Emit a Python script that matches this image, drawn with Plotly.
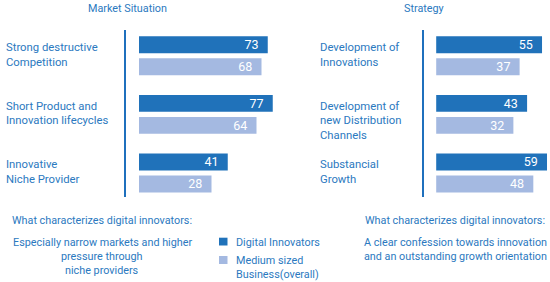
import plotly.graph_objects as go

# ---------------- data ----------------
market_categories = ["Strong destructive<br>Competition",
                     "Short Product and<br>Innovation lifecycles",
                     "Innovative<br>Niche Provider"]
market_digital = [73, 77, 41]
market_medium = [68, 64, 28]

strategy_categories = ["Development of<br>Innovations",
                       "Development of<br>new Distribution<br>Channels",
                       "Substancial<br>Growth"]
strategy_digital = [55, 43, 59]
strategy_medium = [37, 32, 48]

series_names = ["Digital Innovators", "Medium sized<br>Business(overall)"]
panel_titles = ["Market Situation", "Strategy"]
left_note = ["What characterizes digital innovators:",
             "Especially narrow markets and higher",
             "pressure through",
             "niche providers"]
right_note = ["What characterizes digital innovators:",
              "A clear confession towards innovation",
              "and an outstanding growth orientation"]

# ---------------- style ----------------
W, H = 550, 282
FONT = "Roboto, Liberation Sans, sans-serif"
TXT = "#2b79c0"
DARK = "#2072ba"
LIGHT = "#a4b9e1"
AXIS = "#1f70bd"
BASE = -30  # bars start a little left of zero, as in the original graphic
FS_LABEL = 11.3
FS_NOTE = 10.8


def px_x(p):
    return p / W


def px_y(p):
    return 1 - p / H


fig = go.Figure()

panels = [
    (market_categories, market_digital, market_medium, "x", "y"),
    (strategy_categories, strategy_digital, strategy_medium, "x2", "y2"),
]
for cats, dig, med, xa, ya in panels:
    for vals, color, name in [(dig, DARK, series_names[0]), (med, LIGHT, series_names[1])]:
        fig.add_trace(go.Bar(
            orientation="h", y=cats, x=[v - BASE for v in vals], base=BASE,
            text=vals, texttemplate="%{text}\u00a0\u00a0", textposition="inside",
            insidetextanchor="end", constraintext="none",
            textfont=dict(family=FONT, size=12.5, color="white"),
            marker=dict(color=color, line=dict(width=0)),
            name=name, showlegend=False, xaxis=xa, yaxis=ya,
            hoverinfo="skip",
        ))

ydom = [px_y(197), px_y(30)]
yrange = [2.41, -0.44]
fig.update_layout(
    width=W, height=H, margin=dict(l=0, r=0, t=0, b=0),
    paper_bgcolor="white", plot_bgcolor="white",
    barmode="group", bargap=0.25, bargroupgap=0.23,
    showlegend=False,
    font=dict(family=FONT, size=FS_LABEL, color=TXT),
    xaxis=dict(domain=[px_x(126), px_x(290)], range=[-40.4, 90.8], visible=False),
    yaxis=dict(domain=ydom, type="category", range=yrange, showline=True,
               linecolor=AXIS, linewidth=2, showticklabels=False,
               showgrid=False, zeroline=False, ticks=""),
    xaxis2=dict(domain=[px_x(423.5), 1.0], range=[-40.2, 61.4], visible=False),
    yaxis2=dict(domain=ydom, type="category", range=yrange, showline=True,
                linecolor=AXIS, linewidth=2, showticklabels=False,
                showgrid=False, zeroline=False, ticks="", anchor="x2"),
)

ann = []
# panel titles
ann.append(dict(text=panel_titles[0], xref="paper", yref="paper", x=px_x(127), y=px_y(8),
                xanchor="center", yanchor="middle", showarrow=False,
                font=dict(size=FS_NOTE)))
ann.append(dict(text=panel_titles[1], xref="paper", yref="paper", x=px_x(423.5), y=px_y(8),
                xanchor="center", yanchor="middle", showarrow=False,
                font=dict(size=FS_NOTE)))

# category labels (top aligned, one annotation per line)
LS = 14.6
for cats, yref, xpx in [(market_categories, "y", 3.5), (strategy_categories, "y2", 318)]:
    for c in cats:
        for i, line in enumerate(c.split("<br>")):
            ann.append(dict(text=line, xref="paper", yref=yref, x=px_x(xpx), y=c,
                            xanchor="left", yanchor="middle", yshift=8 - i * LS,
                            showarrow=False))

# bottom notes
for line, ypx in zip(left_note, [220.7, 242.7, 256.7, 270.7]):
    ann.append(dict(text=line, xref="paper", yref="paper", x=px_x(102), y=px_y(ypx),
                    xanchor="center", yanchor="middle", showarrow=False,
                    font=dict(size=FS_NOTE)))
for line, ypx in zip(right_note, [220.5, 242.7, 256.7]):
    ann.append(dict(text=line, xref="paper", yref="paper", x=px_x(455), y=px_y(ypx),
                    xanchor="center", yanchor="middle", showarrow=False,
                    font=dict(size=FS_NOTE)))

# legend (drawn manually)
shapes = []
for color, (y0, y1) in [(DARK, (237.7, 245.5)), (LIGHT, (256, 264))]:
    shapes.append(dict(type="rect", xref="paper", yref="paper",
                       x0=px_x(219), x1=px_x(227.5), y0=px_y(y1), y1=px_y(y0),
                       fillcolor=color, line=dict(width=0)))
leg_lines = [series_names[0]] + series_names[1].split("<br>")
for line, ypx in zip(leg_lines, [242, 260.5, 274.5]):
    ann.append(dict(text=line, xref="paper", yref="paper", x=px_x(233.5), y=px_y(ypx),
                    xanchor="left", yanchor="middle", showarrow=False,
                    font=dict(size=FS_NOTE)))

fig.update_layout(annotations=ann, shapes=shapes)
fig.write_html("out.html", config={"displayModeBar": False},
               post_script="document.body.style.margin='0';document.body.style.overflow='hidden';")
